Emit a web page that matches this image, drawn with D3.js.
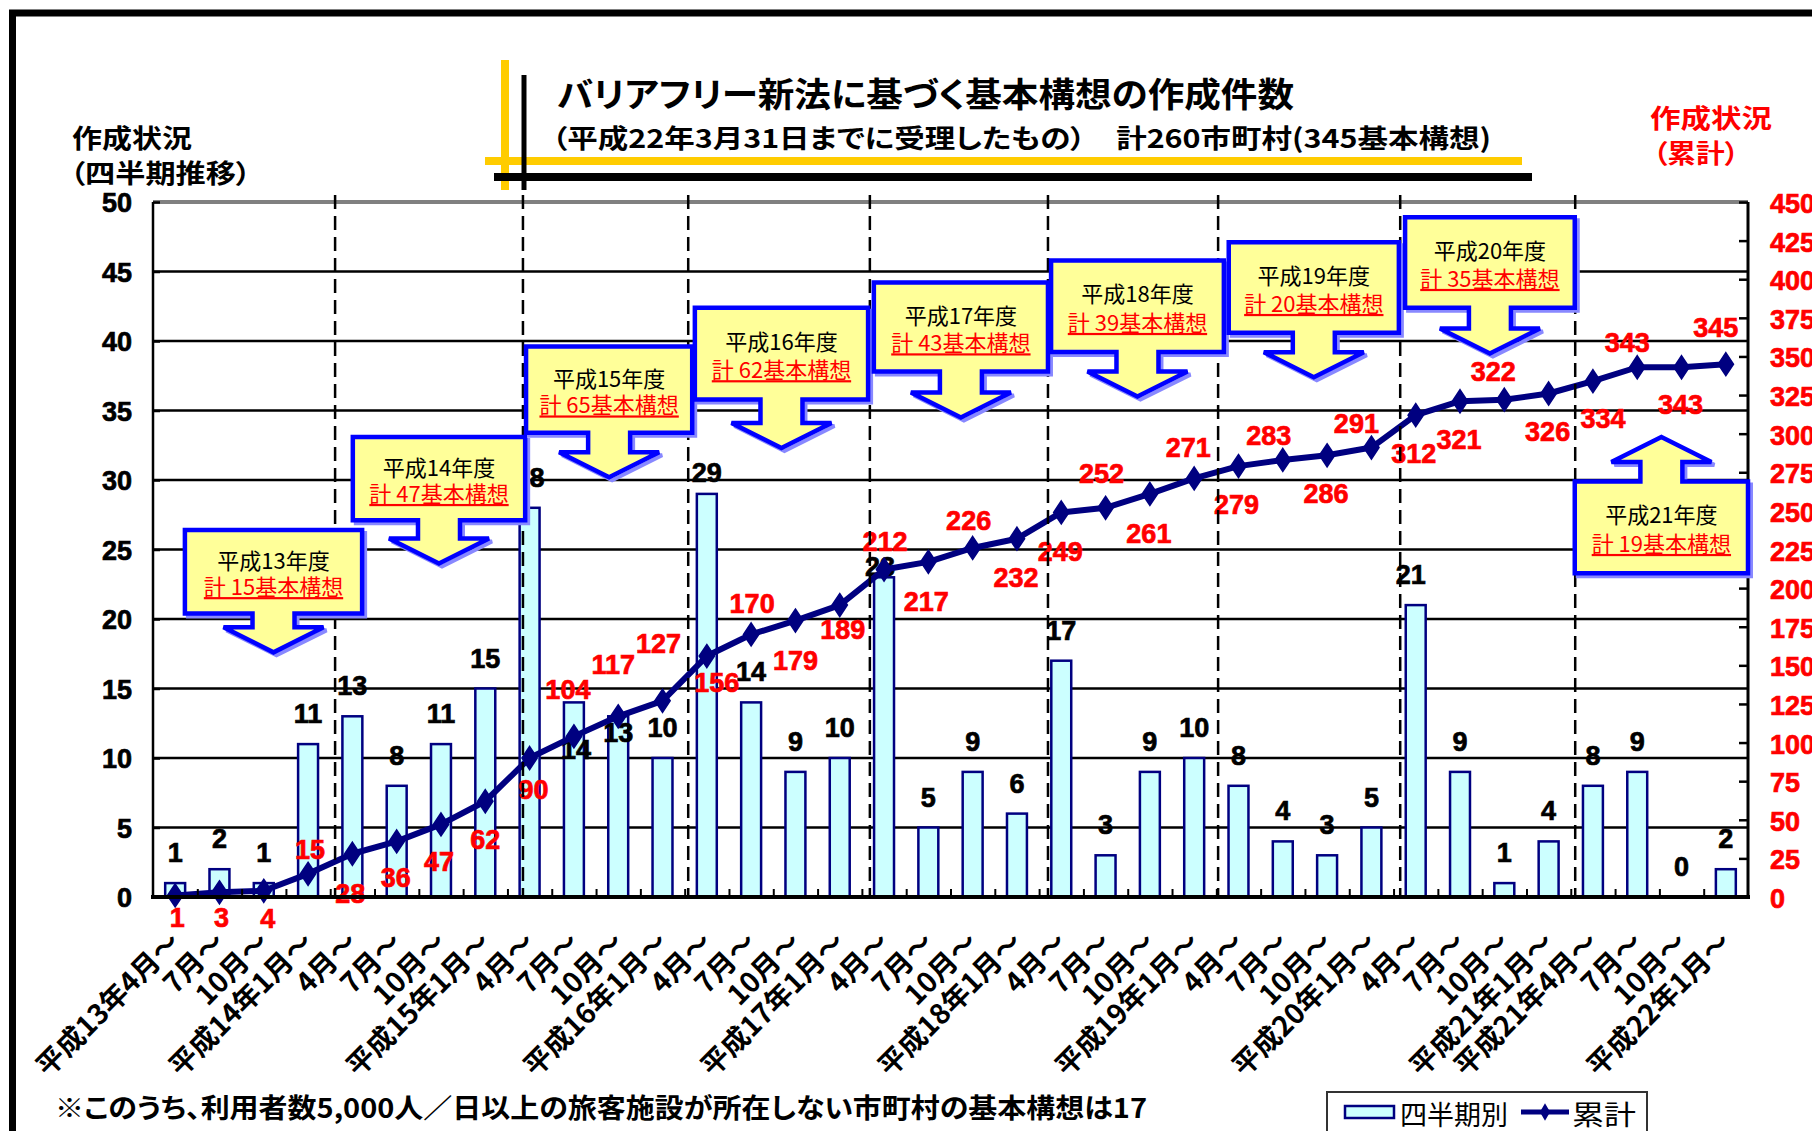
<!DOCTYPE html>
<html><head><meta charset="utf-8">
<script src="https://cdn.jsdelivr.net/npm/d3@7"></script>
<style>
body{margin:0;background:#fff;overflow:hidden;}
svg{display:block;}
text{font-feature-settings:"palt";}
</style></head>
<body>
<svg id="chart" width="1812" height="1131"></svg>
<script>
// ---------------- data ----------------
const categories = ["平成13年4月～","7月～","10月～","平成14年1月～","4月～","7月～","10月～","平成15年1月～",
  "4月～","7月～","10月～","平成16年1月～","4月～","7月～","10月～","平成17年1月～",
  "4月～","7月～","10月～","平成18年1月～","4月～","7月～","10月～","平成19年1月～",
  "4月～","7月～","10月～","平成20年1月～","4月～","7月～","10月～","平成21年1月～",
  "平成21年4月～","7月～","10月～","平成22年1月～"];
const quarterly = [1,2,1,11,13,8,11,15,28,14,13,10,29,14,9,10,23,5,9,6,17,3,9,10,8,4,3,5,21,9,1,4,8,9,0,2];
const cumulative = [1,3,4,15,28,36,47,62,90,104,117,127,156,170,179,189,212,217,226,232,249,252,261,271,279,283,286,291,312,321,322,326,334,343,343,345];
const leftTicks = [0,5,10,15,20,25,30,35,40,45,50];
const rightTicks = [0,25,50,75,100,125,150,175,200,225,250,275,300,325,350,375,400,425,450];
const fiscalYears = ["平成13年度","平成14年度","平成15年度","平成16年度","平成17年度","平成18年度","平成19年度","平成20年度","平成21年度"];
const fiscalTotals = [15,47,65,62,43,39,20,35,19];
const seriesNames = ["四半期別","累計"];
const titleText = "バリアフリー新法に基づく基本構想の作成件数";
const subtitleText = "（平成22年3月31日までに受理したもの）　計260市町村(345基本構想)";
const leftTitle = ["作成状況","（四半期推移）"];
const rightTitle = ["作成状況","（累計）"];
const footnoteText = "※このうち、利用者数5,000人／日以上の旅客施設が所在しない市町村の基本構想は17";

// ---------------- layout (presentation only) ----------------
const W = 1812, H = 1131;
const P = {left:153, right:1748, top:202, bottom:897};
// fiscal-year divider positions, in quarter units
const dividerPos = [4.11, 8.35, 12.08, 16.18, 20.2, 24.04, 28.15, 32.1];
// callout boxes: left/right in quarter units, top/bottom/tip in left-axis units
const calloutLayout = [
  {l:0.72, r:4.72, t:26.4, b:20.4, tip:17.6},
  {l:4.51, r:8.40, t:33.1, b:27.1, tip:24.0},
  {l:8.42, r:12.17, t:39.6, b:33.4, tip:30.2},
  {l:12.23, r:16.14, t:42.4, b:35.8, tip:32.3},
  {l:16.27, r:20.2, t:44.2, b:37.8, tip:34.5},
  {l:20.27, r:24.17, t:45.8, b:39.2, tip:36.0},
  {l:24.28, r:28.12, t:47.1, b:40.6, tip:37.4},
  {l:28.26, r:32.09, t:48.9, b:42.4, tip:39.1},
  {l:32.09, r:36.0, t:29.9, b:23.3, tip:33.1, up:true}
];
// label nudges (px) from the point to label centre
const cumNudge = [[2,23],[2,26],[4,28],[2,-24],[-2,40],[-1,37],[-2,38],[0,39],[4,32],[-6,-46],[-5,-51],[-4,-57],
  [10,27],[1,-30],[0,40],[3,25],[1,-28],[-2,40],[-4,-27],[-1,39],[-1,40],[-4,-34],[-1,40],[-6,-30],
  [-2,39],[-14,-24],[-1,39],[-15,-24],[-2,39],[-1,39],[-11,-28],[-1,38],[10,38],[-10,-24],[-1,38],[-10,-36]];
const barNudge = {9:[2,78], 10:[0,47], 12:[0,9], 16:[-4,20], 28:[-5,0]};

const NUM = "'Liberation Sans', Arial, sans-serif";
const JP = "'Noto Sans CJK JP', 'Noto Sans CJK SC', sans-serif";
const NAVY = "#000080", RED = "#FF0000";

const svg = d3.select("#chart");
svg.append("rect").attr("width",W).attr("height",H).attr("fill","#fff");

// scales
const x = d3.scaleBand().domain(d3.range(categories.length)).range([P.left,P.right]).paddingInner(0.55).paddingOuter(0.275);
const xu = d3.scaleLinear().domain([0,categories.length]).range([P.left,P.right]);
const yL = d3.scaleLinear().domain([0,50]).range([P.bottom,P.top]);
const yR = d3.scaleLinear().domain([0,450]).range([P.bottom,P.top]);
const cx = i => x(i) + x.bandwidth()/2;

// outer frame
svg.append("rect").attr("x",12.5).attr("y",13).attr("width",3000).attr("height",3000)
  .attr("fill","none").attr("stroke","#000").attr("stroke-width",7);

// title decorations
const deco = svg.append("g");
deco.append("line").attr("x1",505).attr("x2",505).attr("y1",60).attr("y2",190).attr("stroke","#FFCC00").attr("stroke-width",8);
deco.append("line").attr("x1",485).attr("x2",1522).attr("y1",161).attr("y2",161).attr("stroke","#FFCC00").attr("stroke-width",8);
deco.append("line").attr("x1",494).attr("x2",1532).attr("y1",177).attr("y2",177).attr("stroke","#000").attr("stroke-width",8);
deco.append("line").attr("x1",524).attr("x2",524).attr("y1",75).attr("y2",190).attr("stroke","#000").attr("stroke-width",5);

// titles
svg.append("text").attr("x",557).attr("y",92).attr("dominant-baseline","central")
  .attr("font-family",JP).attr("font-weight",700).attr("font-size",34)
  .attr("textLength",737).attr("lengthAdjust","spacingAndGlyphs").text(titleText);
svg.append("text").attr("x",552).attr("y",136).attr("dominant-baseline","central")
  .attr("font-family",JP).attr("font-weight",700).attr("font-size",26)
  .attr("textLength",939).attr("lengthAdjust","spacingAndGlyphs").text(subtitleText);

// axis titles
svg.append("text").attr("x",72).attr("y",136).attr("dominant-baseline","central")
  .attr("font-family",JP).attr("font-weight",700).attr("font-size",26)
  .attr("textLength",120).attr("lengthAdjust","spacingAndGlyphs").text(leftTitle[0]);
svg.append("text").attr("x",70).attr("y",171).attr("dominant-baseline","central")
  .attr("font-family",JP).attr("font-weight",700).attr("font-size",26)
  .attr("textLength",181).attr("lengthAdjust","spacingAndGlyphs").text(leftTitle[1]);
svg.append("text").attr("x",1650).attr("y",116).attr("dominant-baseline","central")
  .attr("font-family",JP).attr("font-weight",700).attr("font-size",26).attr("fill",RED)
  .attr("textLength",122).attr("lengthAdjust","spacingAndGlyphs").text(rightTitle[0]);
svg.append("text").attr("x",1653).attr("y",151).attr("dominant-baseline","central")
  .attr("font-family",JP).attr("font-weight",700).attr("font-size",26).attr("fill",RED)
  .attr("textLength",86).attr("lengthAdjust","spacingAndGlyphs").text(rightTitle[1]);

// gridlines
const grid = svg.append("g");
grid.selectAll("line").data(leftTicks.filter(d=>d>0 && d<50)).join("line")
  .attr("x1",P.left).attr("x2",P.right).attr("y1",d=>yL(d)).attr("y2",d=>yL(d))
  .attr("stroke","#000").attr("stroke-width",2.5);
grid.append("line").attr("x1",P.left).attr("x2",P.right).attr("y1",yL(50)).attr("y2",yL(50))
  .attr("stroke","#808080").attr("stroke-width",4);

// bars
svg.append("g").selectAll("rect").data(quarterly).join("rect")
  .attr("x",(d,i)=>x(i)).attr("width",x.bandwidth())
  .attr("y",d=>yL(d)).attr("height",d=>P.bottom-yL(d))
  .attr("fill","#CCFFFF").attr("stroke",NAVY).attr("stroke-width",2.5)
  .attr("display",d=>d>0?null:"none");

// bar labels
svg.append("g").selectAll("text").data(quarterly).join("text")
  .attr("x",(d,i)=>cx(i)+(barNudge[i]?barNudge[i][0]:0))
  .attr("y",(d,i)=>yL(d)-30+(barNudge[i]?barNudge[i][1]:0))
  .attr("text-anchor","middle").attr("dominant-baseline","central")
  .attr("font-family",NUM).attr("font-weight",700).attr("font-size",27)
  .attr("fill","#000").attr("stroke","#000").attr("stroke-width",0.7)
  .text(d=>d);

// cumulative line
const line = d3.line().x((d,i)=>cx(i)).y(d=>yR(d));
svg.append("path").datum(cumulative).attr("d",line).attr("fill","none")
  .attr("stroke",NAVY).attr("stroke-width",6).attr("stroke-linejoin","round");
const diamond = d3.symbol().type(d3.symbolDiamond).size(150);
svg.append("g").selectAll("path").data(cumulative).join("path")
  .attr("d",diamond).attr("transform",(d,i)=>`translate(${cx(i)},${yR(d)}) scale(1.15,1)`)
  .attr("fill",NAVY).attr("stroke",NAVY).attr("stroke-width",1.5);

// cumulative labels
svg.append("g").selectAll("text").data(cumulative).join("text")
  .attr("x",(d,i)=>cx(i)+cumNudge[i][0]).attr("y",(d,i)=>yR(d)+cumNudge[i][1])
  .attr("text-anchor","middle").attr("dominant-baseline","central")
  .attr("font-family",NUM).attr("font-weight",700).attr("font-size",27)
  .attr("fill",RED).attr("stroke",RED).attr("stroke-width",0.7)
  .text(d=>d);

// fiscal-year dividers
svg.append("g").selectAll("line").data(dividerPos).join("line")
  .attr("x1",d=>xu(d)).attr("x2",d=>xu(d)).attr("y1",P.top-7).attr("y2",P.bottom)
  .attr("stroke","#000").attr("stroke-width",2.5).attr("stroke-dasharray","14,7");

// axes lines
svg.append("line").attr("x1",P.left).attr("x2",P.left).attr("y1",P.top).attr("y2",P.bottom).attr("stroke","#000").attr("stroke-width",2.5);
svg.append("line").attr("x1",P.right).attr("x2",P.right).attr("y1",P.top).attr("y2",P.bottom).attr("stroke","#000").attr("stroke-width",3);

// right axis (ticks inward)
const rAxis = svg.append("g").attr("transform",`translate(${P.right},0)`)
  .call(d3.axisLeft(yR).tickValues(rightTicks).tickSize(9).tickFormat(""));
rAxis.select(".domain").remove();
rAxis.selectAll("line").attr("stroke","#000").attr("stroke-width",2.5);
svg.append("g").selectAll("text").data(rightTicks).join("text")
  .attr("x",1770).attr("y",d=>yR(d)+2).attr("dominant-baseline","central")
  .attr("font-family",NUM).attr("font-weight",700).attr("font-size",27)
  .attr("fill",RED).attr("stroke",RED).attr("stroke-width",0.7).text(d=>d);

// left axis labels
const lAxis = svg.append("g").attr("transform",`translate(${P.left},0)`)
  .call(d3.axisRight(yL).tickValues(leftTicks).tickSize(7).tickFormat(""));
lAxis.select(".domain").remove();
lAxis.selectAll("line").attr("stroke","#000").attr("stroke-width",2.5);
svg.append("g").selectAll("text").data(leftTicks).join("text")
  .attr("x",132).attr("y",d=>yL(d)+1).attr("text-anchor","end").attr("dominant-baseline","central")
  .attr("font-family",NUM).attr("font-weight",700).attr("font-size",27)
  .attr("fill","#000").attr("stroke","#000").attr("stroke-width",0.7).text(d=>d);

// bottom axis with inward ticks at quarter boundaries
const bAxis = svg.append("g").attr("transform",`translate(0,${P.bottom})`)
  .call(d3.axisTop(xu).tickValues(d3.range(1,categories.length)).tickSize(8).tickFormat(""));
bAxis.select(".domain").remove();
bAxis.selectAll("line").attr("stroke","#000").attr("stroke-width",2);
svg.append("line").attr("x1",P.left-2).attr("x2",P.right+2).attr("y1",P.bottom).attr("y2",P.bottom)
  .attr("stroke","#000").attr("stroke-width",4);

// category labels
svg.append("g").selectAll("text").data(categories).join("text")
  .attr("transform",(d,i)=>`translate(${cx(i)+7},${P.bottom+47}) rotate(-45)`)
  .attr("text-anchor","end")
  .attr("font-family",JP).attr("font-weight",700).attr("font-size",28)
  .attr("fill","#000").text(d=>d);

// callouts
const cg = svg.append("g");
calloutLayout.forEach((c,k)=>{
  const L = xu(c.l), R = xu(c.r), T = yL(c.t), B = yL(c.b), tip = yL(c.tip);
  const mx = (L+R)/2, sw = 21, hw = 50, hl = 25;
  let p;
  if(!c.up){
    const base = tip - hl;
    p = `M${L},${T}H${R}V${B}H${mx+sw}V${base}H${mx+hw}L${mx},${tip}L${mx-hw},${base}H${mx-sw}V${B}H${L}Z`;
  } else {
    const base = tip + hl;
    p = `M${L},${B}H${R}V${T}H${mx+sw}V${base}H${mx+hw}L${mx},${tip}L${mx-hw},${base}H${mx-sw}V${T}H${L}Z`;
  }
  cg.append("path").attr("d",p).attr("transform","translate(3,3)").attr("fill","none")
    .attr("stroke","#8888ff").attr("stroke-width",4).attr("stroke-linejoin","miter");
  cg.append("path").attr("d",p).attr("fill","#FFFF99").attr("stroke","#0000FF").attr("stroke-width",4.5)
    .attr("stroke-linejoin","miter");
  const h = B - T;
  cg.append("text").attr("x",mx).attr("y",T+0.35*h).attr("text-anchor","middle").attr("dominant-baseline","central")
    .attr("font-family",JP).attr("font-size",22).attr("fill","#000").text(fiscalYears[k]);
  cg.append("text").attr("x",mx).attr("y",T+0.66*h).attr("text-anchor","middle").attr("dominant-baseline","central")
    .attr("font-family",JP).attr("font-size",22).attr("fill",RED).attr("text-decoration","underline")
    .text("計 " + fiscalTotals[k] + "基本構想");
});

// footnote
svg.append("text").attr("x",55).attr("y",1106).attr("dominant-baseline","central")
  .attr("font-family",JP).attr("font-weight",700).attr("font-size",27)
  .attr("textLength",1092).attr("lengthAdjust","spacingAndGlyphs").text(footnoteText);

// legend
const lg = svg.append("g");
lg.append("rect").attr("x",1327).attr("y",1092).attr("width",320).attr("height",70)
  .attr("fill","#fff").attr("stroke","#333").attr("stroke-width",2);
lg.append("rect").attr("x",1345).attr("y",1106).attr("width",49).attr("height",12)
  .attr("fill","#CCFFFF").attr("stroke",NAVY).attr("stroke-width",2.5);
lg.append("text").attr("x",1400).attr("y",1113).attr("dominant-baseline","central")
  .attr("font-family",JP).attr("font-size",27).attr("textLength",108).attr("lengthAdjust","spacingAndGlyphs").text(seriesNames[0]);
lg.append("line").attr("x1",1521).attr("x2",1569).attr("y1",1112).attr("y2",1112).attr("stroke",NAVY).attr("stroke-width",5);
lg.append("path").attr("d",d3.symbol().type(d3.symbolDiamond).size(90)).attr("transform","translate(1545,1112)").attr("fill",NAVY);
lg.append("text").attr("x",1572).attr("y",1113).attr("dominant-baseline","central")
  .attr("font-family",JP).attr("font-size",27).attr("textLength",64).attr("lengthAdjust","spacingAndGlyphs").text(seriesNames[1]);
</script>
</body></html>
